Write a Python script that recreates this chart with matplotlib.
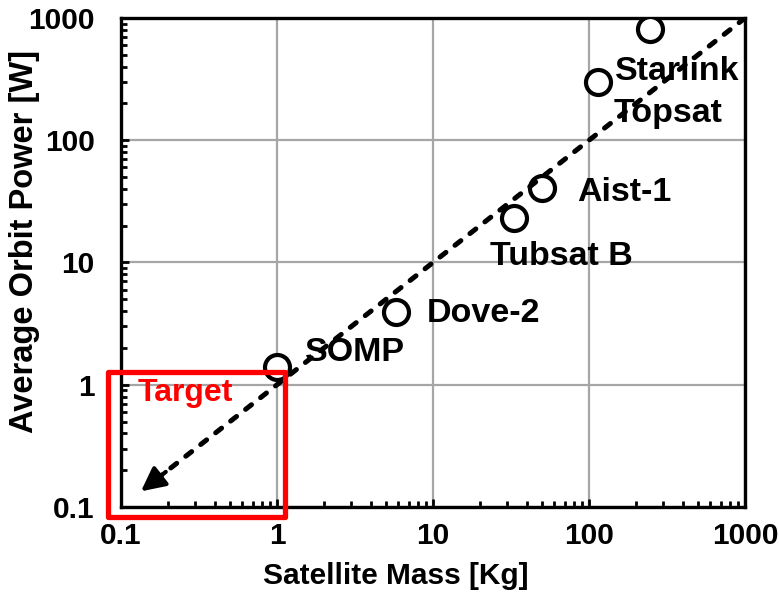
import matplotlib
matplotlib.use("Agg")
import matplotlib.pyplot as plt
from matplotlib.patches import Rectangle

plt.rcParams['font.family'] = ['Liberation Sans', 'DejaVu Sans']
plt.rcParams['font.weight'] = 'bold'

# satellites: mass [kg], average orbit power [W]
names = ["SOMP", "Dove-2", "Tubsat B", "Aist-1", "Topsat", "Starlink"]
mass = [1.0, 5.8, 33, 50, 114, 246]
power = [1.4, 3.9, 23, 41, 300, 808]

# where each name sits (data coords)
label_x = [1.51, 9.16, 23.2, 84, 144, 147]
label_y = [1.85, 3.86, 11.3, 37.7, 167, 362]

# scaling trend line, ends in the arrow head
trend_x = [1000, 0.13]
trend_y = [1000, 0.13]

# target region box
target_x = [0.082, 1.125]
target_y = [0.083, 1.27]

ticks = [0.1, 1, 10, 100, 1000]
tick_labels = ["0.1", "1", "10", "100", "1000"]

fig = plt.figure(figsize=(7.79, 5.92), dpi=100)
ax = fig.add_axes([0.1553, 0.1436, 0.8011, 0.826])
ax.set_xscale('log')
ax.set_yscale('log')
ax.set_xlim(0.1, 1000)
ax.set_ylim(0.1, 1000)

ax.grid(True, which='major', color='#a6a6a6', lw=1.6, zorder=0)
ax.set_axisbelow(True)

ax.plot(mass, power, 'o', ms=18, mfc='white', mec='black', mew=3, zorder=3)

for n, lx, ly in zip(names, label_x, label_y):
    ax.text(lx, ly, n, fontsize=24.5, fontweight='bold', ha='left', va='center', zorder=4)

ax.plot(trend_x[:1] + [0.18], trend_y[:1] + [0.18], color='black', lw=3.6,
        dashes=(1.5, 2.3), dash_capstyle='round', zorder=5)
ax.annotate('', xy=(trend_x[1], trend_y[1]), xytext=(0.2, 0.2),
            arrowprops=dict(arrowstyle='-|>', lw=3, color='black', mutation_scale=36),
            zorder=5)

rect = Rectangle((target_x[0], target_y[0]), target_x[1] - target_x[0], target_y[1] - target_y[0],
                 fill=False, ec='#ff0000', lw=3.8, clip_on=False, zorder=6,
                 joinstyle='round')
ax.add_patch(rect)
ax.text(0.128, 0.857, "Target", color='#ff0000', fontsize=23, fontweight='bold',
        ha='left', va='center', zorder=6)

ax.set_xticks(ticks)
ax.set_xticklabels(tick_labels)
ax.set_yticks(ticks)
ax.set_yticklabels(tick_labels)
ax.tick_params(which='major', direction='in', length=6, width=2, labelsize=21.5)
ax.tick_params(which='minor', direction='in', length=4, width=2)
ax.tick_params(axis='x', which='major', pad=11)
ax.tick_params(axis='y', which='major', pad=19)
for s in ax.spines.values():
    s.set_linewidth(2.4)

ax.set_xlabel("Satellite Mass [Kg]", fontsize=21.5, fontweight='bold')
ax.xaxis.set_label_coords(0.44, -0.112)
ax.set_ylabel("Average Orbit Power [W]", fontsize=23.5, fontweight='bold')
ax.yaxis.set_label_coords(-0.13, 0.544)

fig.savefig("out.png", dpi=100)
